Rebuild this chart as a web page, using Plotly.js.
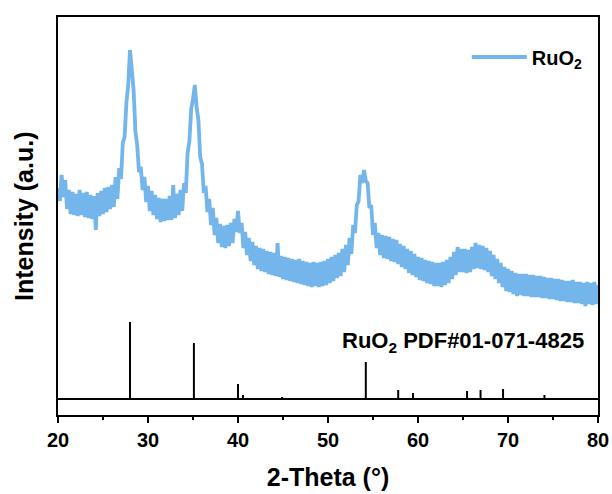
<!DOCTYPE html>
<html>
<head>
<meta charset="utf-8">
<script src="https://cdn.plot.ly/plotly-3.0.1.min.js"></script>
<style>html,body{margin:0;padding:0;background:#fff;} #chart{width:612px;height:494px;}</style>
</head>
<body>
<div id="chart"></div>
<script>
// 2-Theta sampling: 20.0 to 80.0 every 0.2 deg
var thetaStart = 20.0, thetaStep = 0.2;
var intensity = [
227,214,240,218,235,206,225,201,223,200,
221,199,225,200,222,198,223,197,220,196,
219,185,222,199,224,201,227,203,228,206,
230,208,238,216,247,236,272,278,312,330,
365,348,325,284,270,243,248,225,238,213,
229,204,224,200,220,196,217,193,216,194,
216,195,219,195,230,197,221,200,225,204,
232,222,262,274,306,316,330,308,295,258,
251,222,229,203,216,190,207,180,197,172,
191,168,189,167,190,169,192,172,196,183,
204,182,192,167,183,160,177,154,173,150,
169,146,167,144,166,143,164,141,163,140,
162,139,172,138,159,136,158,135,157,134,
156,133,155,132,156,131,154,130,153,129,
152,128,153,129,152,128,153,129,154,130,
156,132,158,134,160,137,162,139,166,143,
170,150,177,161,190,182,210,214,240,232,
245,234,232,207,210,180,192,167,182,160,
180,157,179,156,178,154,176,153,175,151,
171,148,169,146,166,142,164,140,161,138,
158,135,157,134,155,132,154,131,153,129,
152,129,152,128,153,130,155,132,158,136,
163,140,168,143,166,143,166,142,165,143,
168,146,172,147,170,146,169,145,167,143,
164,139,160,136,156,132,152,128,148,124,
146,123,144,121,142,119,141,120,141,119,
141,119,140,118,140,118,139,118,139,117,
138,117,137,116,137,116,136,115,136,114,
135,114,134,113,134,113,135,112,133,112,
133,111,132,109,133,111,132,110,133,111,
130
];
// Reference pattern RuO2 PDF#01-071-4825: positions and stick heights
var refPos =    [28.0, 35.1, 40.0, 40.55, 44.9, 54.2, 57.8, 59.45, 65.45, 66.95, 69.45, 74.05];
var refHeight = [93,   72,   31,   20,    18,   53,   25,   22,    24,    25,    26,    20];
var refBase = 16;
var xTicks = [20, 30, 40, 50, 60, 70, 80];

var theta = intensity.map(function(v, i){ return +(thetaStart + i*thetaStep).toFixed(2); });

var stickX = [], stickY = [];
refPos.forEach(function(p, i){ stickX.push(p, p, null); stickY.push(refBase, refHeight[i], null); });

var traces = [
  {x: theta, y: intensity, type: 'scatter', mode: 'lines', name: 'RuO<sub>2</sub>',
   line: {color: '#74b6ec', width: 3.8}},
  {x: stickX, y: stickY, type: 'scatter', mode: 'lines', showlegend: false,
   line: {color: '#000', width: 2}, hoverinfo: 'skip'},
  {x: [xTicks[0], xTicks[xTicks.length-1]], y: [refBase, refBase], type: 'scatter', mode: 'lines',
   showlegend: false, line: {color: '#000', width: 2}, hoverinfo: 'skip'}
];

var font = 'Arial, "Liberation Sans", Helvetica, sans-serif';
var layout = {
  width: 612, height: 494,
  margin: {l: 58, r: 14, t: 17, b: 79},
  paper_bgcolor: '#fff', plot_bgcolor: '#fff',
  font: {family: font, color: '#000'},
  showlegend: true,
  legend: {x: 0.757, y: 0.8995, xanchor: 'left', yanchor: 'middle', bgcolor: 'rgba(0,0,0,0)',
           font: {size: 20, weight: 'bold', family: font, color: '#000'}, itemwidth: 55},
  xaxis: {
    range: [20, 80], tickvals: xTicks, ticks: 'outside', ticklen: 6, tickwidth: 2, tickcolor: '#000',
    showline: true, linewidth: 2, linecolor: '#000', mirror: true, showgrid: false, zeroline: false,
    tickfont: {size: 20, weight: 'bold', family: font},
    minor: {dtick: 5, ticks: 'outside', ticklen: 3, tickwidth: 2, tickcolor: '#000', showgrid: false},
    title: {text: '2-Theta (°)', font: {size: 25, weight: 'bold', family: font}, standoff: 18}
  },
  yaxis: {
    range: [0, 398], showticklabels: false, ticks: '', showline: true, linewidth: 2, linecolor: '#000',
    mirror: true, showgrid: false, zeroline: false
  },
  annotations: [{
    x: 65.05, y: 73, xref: 'x', yref: 'y', showarrow: false, xanchor: 'center', yanchor: 'middle',
    text: 'RuO<sub>2</sub> PDF#01-071-4825', font: {size: 22, weight: 'bold', family: font, color: '#000'}
  }, {
    x: -0.063, y: 0.5, xref: 'paper', yref: 'paper', showarrow: false, xanchor: 'center', yanchor: 'middle',
    textangle: -90, text: 'Intensity (a.u.)', font: {size: 25, weight: 'bold', family: font, color: '#000'}
  }]
};
Plotly.newPlot('chart', traces, layout, {staticPlot: true, displayModeBar: false});
</script>
</body>
</html>
